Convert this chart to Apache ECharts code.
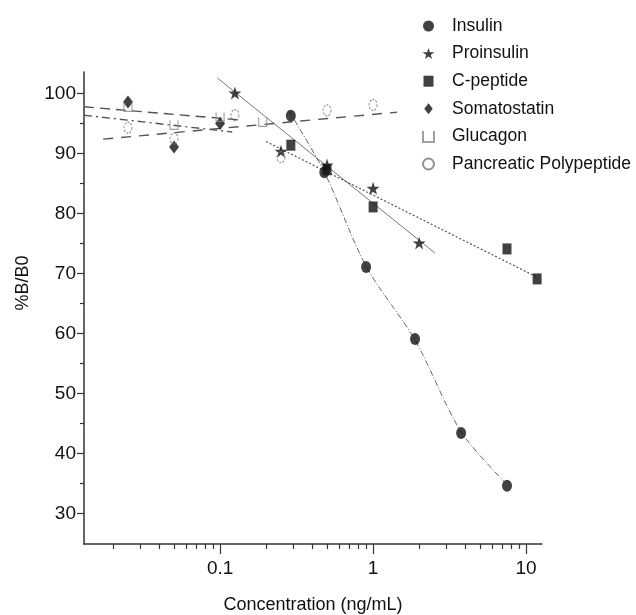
<!DOCTYPE html>
<html>
<head>
<meta charset="utf-8">
<script src="https://cdn.jsdelivr.net/npm/echarts@6/dist/echarts.min.js"></script>
<style>html,body{margin:0;padding:0;background:#fff}#chart{width:636px;height:615px}</style>
</head>
<body>
<div id="chart"></div>
<script>
// measured points, concentration (ng/mL) -> %B/B0
var insulinX = [0.29, 0.48, 0.90, 1.88, 3.76, 7.5];
var insulinY = [96.3, 86.9, 71.1, 59.1, 43.4, 34.6];
var proX = [0.125, 0.25, 0.5, 1, 2];
var proY = [100.1, 90.4, 88.1, 84.2, 75.1];
var cpepX = [0.29, 0.5, 1, 7.5, 11.8];
var cpepY = [91.4, 87.3, 81.1, 74.1, 69.1];
var somaX = [0.025, 0.05, 0.1];
var somaY = [98.6, 91.1, 95.0];
var glucX = [0.025, 0.05, 0.1, 0.19];
var glucY = [97.8, 94.8, 96.1, 95.3];
var ppX = [0.025, 0.05, 0.125, 0.25, 0.5, 1];
var ppY = [94.3, 92.5, 96.4, 89.4, 97.2, 98.1];

// fitted lines as drawn in the figure
var insulinFitX = [0.28, 0.48, 0.9, 1.88, 3.76, 7.2];
var insulinFitY = [97.2, 86.9, 71.2, 58.9, 43.6, 35.3];
var proFitX = [0.096, 2.54];
var proFitY = [102.6, 73.4];
var cpepFitX = [0.2, 12];
var cpepFitY = [92.0, 69.3];
var glucFitX = [0.0129, 0.135];
var glucFitY = [97.8, 95.6];
var somaFitX = [0.0129, 0.12];
var somaFitY = [96.4, 93.6];
var ppFitX = [0.0172, 1.43];
var ppFitY = [92.4, 96.9];

var names = ['Insulin', 'Proinsulin', 'C-peptide', 'Somatostatin', 'Glucagon', 'Pancreatic Polypeptide'];
var majorX = [0.1, 1, 10];
var majorY = [30, 40, 50, 60, 70, 80, 90, 100];
var minorY = [35, 45, 55, 65, 75, 85, 95];

var minorX = [];
[0.01, 0.1, 1].forEach(function (d) {
  for (var k = 2; k <= 9; k++) minorX.push(+(d * k).toPrecision(3));
});

function pairs(xs, ys) {
  var out = [];
  for (var i = 0; i < xs.length; i++) out.push([xs[i], ys[i]]);
  return out;
}

var star = 'path://M50,0L61.8,35.4L99,35.4L68.9,57.3L80.4,92.7L50,70.8L19.6,92.7L31.1,57.3L1,35.4L38.2,35.4Z';
var square = 'path://M0,0L10,0L10,11L0,11Z';
var diamond = 'path://M5,0L10,6.5L5,13L0,6.5Z';
var cup = 'path://M0,0L0,10L10,10L10,0';
var font = 'Liberation Sans, Arial, sans-serif';
var axisColor = '#333';

function fit(name, xs, ys, color, type, width, smooth) {
  return {
    name: name, type: 'line', data: pairs(xs, ys), symbol: 'none', silent: true,
    smooth: smooth || false, z: 1,
    lineStyle: { color: color, width: width, type: type }
  };
}
function pts(name, xs, ys, symbol, size, style) {
  return {
    name: name, type: 'scatter', data: pairs(xs, ys), symbol: symbol,
    symbolSize: size, itemStyle: style, z: 3
  };
}

var chart = echarts.init(document.getElementById('chart'), null, { renderer: 'canvas' });
var option = {
  animation: false,
  backgroundColor: '#fff',
  textStyle: { fontFamily: font },
  grid: { left: 84, right: 94, top: 72, bottom: 71, containLabel: false, outerBoundsMode: 'none' },
  legend: {
    data: names, orient: 'vertical', left: 417, top: 12,
    itemWidth: 37, itemHeight: 11, itemGap: 9.6,
    textStyle: { fontSize: 17.5, color: '#111', fontFamily: font }
  },
  xAxis: [{
    type: 'log', logBase: 10, min: 0.0129, max: 12.7, position: 'bottom',
    axisLine: { show: true, lineStyle: { color: axisColor, width: 1.5 } },
    axisTick: { show: true, length: 5, customValues: minorX, lineStyle: { color: axisColor, width: 1.2 } },
    axisLabel: { show: false }, splitLine: { show: false }
  }, {
    type: 'log', logBase: 10, min: 0.0129, max: 12.7, position: 'bottom',
    axisLine: { show: false },
    axisTick: { show: true, length: 10, customValues: majorX, lineStyle: { color: axisColor, width: 1.2 } },
    axisLabel: {
      customValues: majorX, fontSize: 19, margin: 15, color: '#111', fontFamily: font,
      formatter: function (v) { return String(+v.toPrecision(3)); }
    },
    splitLine: { show: false },
    name: 'Concentration (ng/mL)', nameLocation: 'middle', nameGap: 52,
    nameTextStyle: { fontSize: 18, color: '#111', fontFamily: font }
  }],
  yAxis: [{
    type: 'value', min: 24.9, max: 103.6,
    axisLine: { show: true, lineStyle: { color: axisColor, width: 1.5 } },
    axisTick: { show: true, length: 4, customValues: minorY, lineStyle: { color: axisColor, width: 1.2 } },
    axisLabel: { show: false }, splitLine: { show: false }
  }, {
    type: 'value', min: 24.9, max: 103.6, position: 'left',
    axisLine: { show: false },
    axisTick: { show: true, length: 7, customValues: majorY, lineStyle: { color: axisColor, width: 1.2 } },
    axisLabel: { customValues: majorY, fontSize: 19, margin: 8, color: '#111', fontFamily: font },
    splitLine: { show: false },
    name: '%B/B0', nameLocation: 'middle', nameGap: 52,
    nameTextStyle: { fontSize: 18, color: '#111', fontFamily: font, padding: [0, 0, 0, 50] }
  }],
  series: [
    fit('Insulin fit', insulinFitX, insulinFitY, '#666', [6, 2, 1, 2], 1, 0.3),
    fit('Proinsulin fit', proFitX, proFitY, '#777', 'solid', 1),
    fit('C-peptide fit', cpepFitX, cpepFitY, '#555', [2, 2], 1.2),
    fit('Glucagon fit', glucFitX, glucFitY, '#555', [10, 6], 1.4),
    fit('Somatostatin fit', somaFitX, somaFitY, '#555', [8, 4, 2, 4], 1.4),
    fit('PP fit', ppFitX, ppFitY, '#555', [10, 8], 1.4),
    pts('Insulin', insulinX, insulinY, 'circle', [10, 12], { color: '#111' }),
    pts('Proinsulin', proX, proY, star, 13, { color: '#111' }),
    pts('C-peptide', cpepX, cpepY, square, [9, 11], { color: '#111' }),
    pts('Somatostatin', somaX, somaY, diamond, [10, 13], { color: '#111' }),
    pts('Glucagon', glucX, glucY, cup, [8, 9], { color: 'transparent', borderColor: '#888', borderWidth: 1.2 }),
    pts('Pancreatic Polypeptide', ppX, ppY, 'circle', [8, 11],
      { color: 'transparent', borderColor: '#777', borderWidth: 1.2, borderType: [2, 1.5] })
  ]
};
chart.setOption(option);
</script>
</body>
</html>
